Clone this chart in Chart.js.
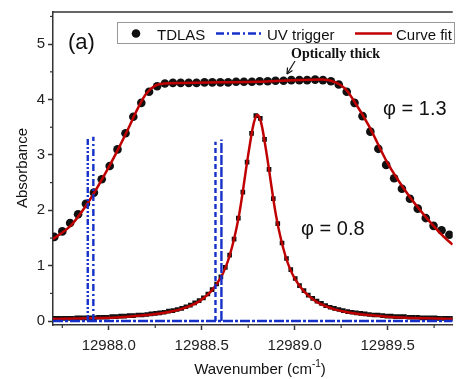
<!DOCTYPE html>
<html>
<head>
<meta charset="utf-8">
<script src="https://cdn.jsdelivr.net/npm/chart.js@4.4.0/dist/chart.umd.min.js"></script>
<style>
  html, body { margin: 0; padding: 0; background: #fff; }
  #wrap { position: relative; width: 457px; height: 379px; }
</style>
</head>
<body>
<div id="wrap"><canvas id="chart" width="457" height="379"></canvas></div>
<script>
// phi = 1.3 (optically thick) TDLAS points
const wnRich = [12987.707, 12987.750, 12987.792, 12987.835, 12987.877, 12987.920, 12987.962, 12988.005, 12988.047, 12988.090,
  12988.132, 12988.175, 12988.217, 12988.260, 12988.302, 12988.345, 12988.387, 12988.430, 12988.472, 12988.515,
  12988.557, 12988.600, 12988.642, 12988.685, 12988.727, 12988.770, 12988.812, 12988.855, 12988.897, 12988.940,
  12988.982, 12989.025, 12989.067, 12989.110, 12989.152, 12989.195, 12989.237, 12989.280, 12989.322, 12989.365,
  12989.407, 12989.450, 12989.492, 12989.535, 12989.577, 12989.620, 12989.662, 12989.705, 12989.747, 12989.790,
  12989.832];
const absRich = [1.52, 1.62, 1.77, 1.93, 2.12, 2.32, 2.56, 2.80, 3.10, 3.39,
  3.69, 3.94, 4.14, 4.24, 4.29, 4.30, 4.30, 4.30, 4.30, 4.31,
  4.31, 4.31, 4.31, 4.32, 4.32, 4.32, 4.33, 4.33, 4.34, 4.34,
  4.35, 4.35, 4.35, 4.36, 4.35, 4.33, 4.27, 4.14, 3.94, 3.70,
  3.42, 3.11, 2.82, 2.58, 2.39, 2.21, 2.03, 1.86, 1.72, 1.64,
  1.56];

// phi = 0.8 TDLAS points
const wnLean = [12987.710, 12987.734, 12987.757, 12987.781, 12987.804, 12987.828, 12987.851, 12987.875, 12987.898, 12987.922,
  12987.945, 12987.969, 12987.992, 12988.016, 12988.039, 12988.063, 12988.086, 12988.110, 12988.133, 12988.157,
  12988.180, 12988.204, 12988.227, 12988.251, 12988.274, 12988.298, 12988.321, 12988.345, 12988.368, 12988.392,
  12988.415, 12988.439, 12988.462, 12988.486, 12988.509, 12988.533, 12988.556, 12988.580, 12988.603, 12988.627,
  12988.650, 12988.674, 12988.697, 12988.721, 12988.744, 12988.768, 12988.791, 12988.815, 12988.838, 12988.862,
  12988.885, 12988.909, 12988.932, 12988.956, 12988.979, 12989.003, 12989.026, 12989.050, 12989.073, 12989.097,
  12989.120, 12989.144, 12989.167, 12989.191, 12989.214, 12989.238, 12989.261, 12989.285, 12989.308, 12989.332,
  12989.355, 12989.379, 12989.402, 12989.426, 12989.449, 12989.473, 12989.496, 12989.520, 12989.543, 12989.567,
  12989.590, 12989.614, 12989.637, 12989.661, 12989.684, 12989.708, 12989.731, 12989.755, 12989.778, 12989.802,
  12989.825, 12989.849];
const absLean = [0.05, 0.05, 0.05, 0.05, 0.05, 0.06, 0.06, 0.06, 0.06, 0.06,
  0.07, 0.07, 0.07, 0.08, 0.08, 0.09, 0.09, 0.10, 0.10, 0.11,
  0.11, 0.12, 0.13, 0.14, 0.15, 0.16, 0.18, 0.19, 0.21, 0.23,
  0.26, 0.29, 0.33, 0.37, 0.42, 0.49, 0.57, 0.67, 0.80, 0.97,
  1.19, 1.48, 1.86, 2.33, 2.87, 3.39, 3.71, 3.66, 3.28, 2.74,
  2.21, 1.76, 1.41, 1.13, 0.93, 0.77, 0.64, 0.55, 0.47, 0.41,
  0.36, 0.32, 0.28, 0.25, 0.23, 0.21, 0.19, 0.17, 0.16, 0.15,
  0.14, 0.13, 0.12, 0.11, 0.11, 0.10, 0.09, 0.09, 0.08, 0.08,
  0.08, 0.07, 0.07, 0.07, 0.06, 0.06, 0.06, 0.06, 0.05, 0.05,
  0.05, 0.05];

// curve fits
const fitRichX = [12987.70, 12987.80, 12987.90, 12988.00, 12988.05, 12988.10, 12988.15, 12988.20, 12988.25, 12988.30,
  12988.40, 12988.60, 12988.80, 12989.00, 12989.15, 12989.22, 12989.27, 12989.32, 12989.40, 12989.50,
  12989.60, 12989.70, 12989.80, 12989.85];
const fitRichY = [1.48, 1.74, 2.20, 2.78, 3.10, 3.44, 3.80, 4.10, 4.25, 4.29,
  4.30, 4.31, 4.32, 4.35, 4.36, 4.31, 4.20, 3.97, 3.52, 2.85,
  2.33, 1.90, 1.53, 1.38];
const fitLeanX = [12987.70, 12987.90, 12988.10, 12988.30, 12988.40, 12988.50, 12988.60, 12988.65, 12988.70, 12988.75,
  12988.775, 12988.7875, 12988.80, 12988.8125, 12988.825, 12988.85, 12988.90, 12988.95, 12989.00, 12989.10,
  12989.20, 12989.30, 12989.50, 12989.70, 12989.85];
const fitLeanY = [0.04, 0.05, 0.08, 0.15, 0.23, 0.39, 0.77, 1.18, 1.90, 3.00,
  3.50, 3.66, 3.72, 3.66, 3.50, 3.00, 1.90, 1.18, 0.77, 0.39,
  0.23, 0.15, 0.08, 0.05, 0.04];

// UV trigger spikes
const uvX = [12987.887, 12987.917, 12988.574, 12988.606];
const uvTop = [3.31, 3.33, 3.24, 3.28];

const xTicks = [12988.0, 12988.5, 12989.0, 12989.5];
const yTicks = [0, 1, 2, 3, 4, 5];
const xMinor = [12987.75, 12988.25, 12988.75, 12989.25, 12989.75];
const yMinor = [0.5, 1.5, 2.5, 3.5, 4.5, 5.5];

const BLUE = '#1530c8';
const RED = '#c00000';
const FONT = "'Liberation Sans', Arial, sans-serif";
const uvDash = [[6, 2, 2, 2, 2, 2], [7, 3, 2, 3], [5, 3], [10, 2]];

const pairs = (xs, ys) => xs.map((x, i) => ({ x: x, y: ys[i] }));

const datasets = [];
uvX.forEach((x, i) => {
  datasets.push({
    data: [{ x: x, y: 0 }, { x: x, y: uvTop[i] }],
    borderColor: BLUE, borderWidth: 2.4, borderDash: uvDash[i],
    pointRadius: 0, order: 0
  });
});
datasets.push({
  data: [{ x: 12987.70, y: 0 }, { x: 12989.85, y: 0 }],
  borderColor: BLUE, borderWidth: 2.5, borderDash: [10, 2, 3, 2],
  pointRadius: 0, order: 0
});
datasets.push({
  data: pairs(fitRichX, fitRichY), borderColor: RED, borderWidth: 2.5,
  cubicInterpolationMode: 'monotone', pointRadius: 0, order: 1
});
datasets.push({
  data: pairs(fitLeanX, fitLeanY), borderColor: RED, borderWidth: 2.5,
  cubicInterpolationMode: 'monotone', pointRadius: 0, order: 1
});
datasets.push({
  data: pairs(wnRich, absRich), showLine: false, pointStyle: 'circle',
  pointRadius: 4.3, pointBackgroundColor: '#111', pointBorderWidth: 0, order: 2
});
datasets.push({
  data: pairs(wnLean, absLean), showLine: false, pointStyle: 'rect',
  pointRadius: 3.3, pointBackgroundColor: '#111', pointBorderWidth: 0, order: 2
});

const decor = {
  id: 'decor',
  afterDraw(chart) {
    const ctx = chart.ctx;
    const a = chart.chartArea;
    const xs = chart.scales.x, ys = chart.scales.y;
    ctx.save();
    ctx.strokeStyle = '#333';
    ctx.lineWidth = 1.5;
    ctx.beginPath();
    ctx.moveTo(a.left, a.top);
    ctx.lineTo(a.right, a.top);
    ctx.stroke();
    // minor ticks
    ctx.lineWidth = 1.2;
    xMinor.forEach(v => {
      const p = xs.getPixelForValue(v);
      ctx.beginPath(); ctx.moveTo(p, a.bottom); ctx.lineTo(p, a.bottom + 3); ctx.stroke();
    });
    yMinor.forEach(v => {
      const p = ys.getPixelForValue(v);
      ctx.beginPath(); ctx.moveTo(a.left - 3, p); ctx.lineTo(a.left, p); ctx.stroke();
    });

    // legend box
    ctx.strokeStyle = '#999';
    ctx.lineWidth = 1;
    ctx.strokeRect(117.5, 22.5, 337, 21);
    const ly = 33.5;
    ctx.fillStyle = '#111';
    ctx.beginPath(); ctx.arc(136, ly, 4.3, 0, Math.PI * 2); ctx.fill();
    ctx.lineWidth = 2.5;
    ctx.strokeStyle = BLUE;
    ctx.setLineDash([8, 3, 2, 3]);
    ctx.beginPath(); ctx.moveTo(216, ly); ctx.lineTo(264, ly); ctx.stroke();
    ctx.setLineDash([]);
    ctx.strokeStyle = RED;
    ctx.beginPath(); ctx.moveTo(355, ly); ctx.lineTo(392, ly); ctx.stroke();
    ctx.fillStyle = '#111';
    ctx.font = '15px ' + FONT;
    ctx.textBaseline = 'alphabetic';
    ctx.textAlign = 'left';
    ctx.fillText('TDLAS', 157, 39.5);
    ctx.fillText('UV trigger', 267, 39.5);
    ctx.fillText('Curve fit', 396, 39.5);

    // annotations
    ctx.font = '22px ' + FONT;
    ctx.fillText('(a)', 68, 48.5);
    ctx.font = "bold 14px 'Liberation Serif', 'Times New Roman', serif";
    ctx.fillText('Optically thick', 291, 58);
    ctx.strokeStyle = '#111';
    ctx.lineWidth = 1.2;
    ctx.beginPath(); ctx.moveTo(295, 61); ctx.lineTo(287, 74); ctx.stroke();
    ctx.beginPath(); ctx.moveTo(287, 74); ctx.lineTo(287.5, 67.5); ctx.moveTo(287, 74); ctx.lineTo(292.5, 70.5); ctx.stroke();
    ctx.font = '20px ' + FONT;
    ctx.fillText('\u03c6 = 1.3', 383, 114.5);
    ctx.fillText('\u03c6 = 0.8', 301, 235);

    // axis titles
    ctx.font = '15px ' + FONT;
    const t1 = 'Wavenumber (cm', t3 = ')';
    const w1 = ctx.measureText(t1).width, w3 = ctx.measureText(t3).width;
    ctx.font = '10px ' + FONT;
    const t2 = '-1';
    const w2 = ctx.measureText(t2).width;
    let tx = 260 - (w1 + w2 + w3) / 2;
    ctx.font = '15px ' + FONT;
    ctx.fillText(t1, tx, 374);
    ctx.font = '10px ' + FONT;
    ctx.fillText(t2, tx + w1, 367);
    ctx.font = '15px ' + FONT;
    ctx.fillText(t3, tx + w1 + w2, 374);

    ctx.translate(23, 168);
    ctx.rotate(-Math.PI / 2);
    ctx.textAlign = 'center';
    ctx.textBaseline = 'middle';
    ctx.fillText('Absorbance', 0, 0);
    ctx.restore();
  }
};

new Chart(document.getElementById('chart'), {
  type: 'line',
  data: { datasets: datasets },
  plugins: [decor],
  options: {
    responsive: false,
    animation: false,
    layout: { padding: { top: 12, right: 0, left: 0, bottom: 0 } },
    plugins: { legend: { display: false }, tooltip: { enabled: false } },
    scales: {
      x: {
        type: 'linear', min: 12987.70, max: 12989.85,
        afterBuildTicks: s => { s.ticks = xTicks.map(v => ({ value: v })); },
        afterFit: s => { s.height = 54; },
        ticks: { callback: v => v.toFixed(1), font: { size: 15, family: FONT }, color: '#222', maxRotation: 0, padding: 7 },
        grid: { drawOnChartArea: false, drawTicks: true, tickLength: 5, tickColor: '#333', tickWidth: 1.5 },
        border: { display: true, color: '#333', width: 1.5 }
      },
      y: {
        type: 'linear', min: -0.07, max: 5.58,
        afterBuildTicks: s => { s.ticks = yTicks.map(v => ({ value: v })); },
        afterFit: s => { s.width = 53; },
        ticks: { callback: v => String(v), font: { size: 15, family: FONT }, color: '#222', padding: 3 },
        grid: { drawOnChartArea: false, drawTicks: true, tickLength: 5, tickColor: '#333', tickWidth: 1.5 },
        border: { display: true, color: '#333', width: 1.5 }
      }
    }
  }
});
</script>
</body>
</html>
